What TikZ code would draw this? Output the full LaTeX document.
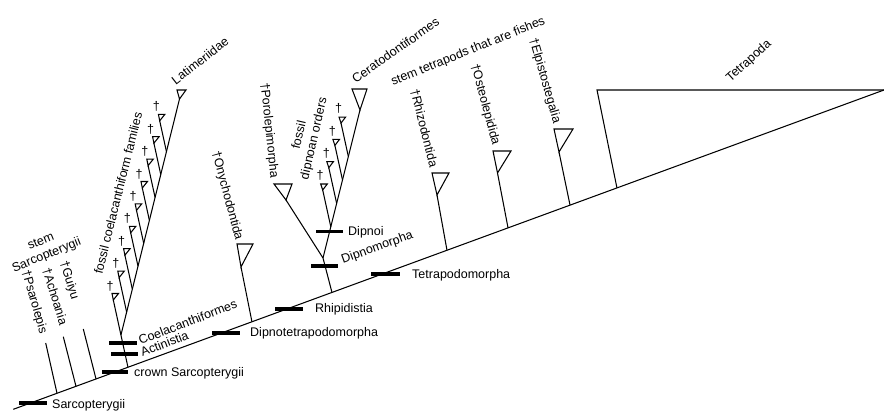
\documentclass[tikz,border=0pt]{standalone}
\usepackage{fontspec}
\setmainfont{Liberation Sans}
\usetikzlibrary{calc}
\newcommand\cladetri[4]{\draw[br] (#1) -- ++(#2,#3) -- ++(#4,0) -- cycle;}
\begin{document}
\begin{tikzpicture}[x=1pt,y=-1pt,
  br/.style={line width=1.05pt},
  bar/.style={line width=3.2pt},
  lbl/.style={font=\fontsize{12.5}{15}\selectfont, inner sep=1pt},
  dag/.style={font=\fontsize{12.5}{15}\selectfont, inner sep=0pt},
  line join=miter]

\path[use as bounding box] (0,0) rectangle (884,414);

% backbone
\coordinate (B0) at (13.3,409.3);
\coordinate (B1) at (884,90);
\draw[br] (B0) -- (B1);

% Tetrapoda
\coordinate (tetA) at ($(B0)!0.6933!(B1)$);
\coordinate (tetTL) at (597,90);
\draw[br] (tetA) -- (tetTL) -- (B1);

% stem sarcopterygians
\coordinate (psA) at ($(B0)!0.0502!(B1)$); \coordinate (psT) at (45.7,343);
\coordinate (acA) at ($(B0)!0.0720!(B1)$); \coordinate (acT) at (63.3,336.7);
\coordinate (guA) at ($(B0)!0.0950!(B1)$); \coordinate (guT) at (83.3,329);
\draw[br] (psA) -- (psT);
\draw[br] (acA) -- (acT);
\draw[br] (guA) -- (guT);

% coelacanths
\coordinate (coA) at ($(B0)!0.1317!(B1)$);
\coordinate (ca1) at (113.3,300);
\coordinate (coN) at ($(coA)!0.479!(ca1)$);
\coordinate (lat) at (179.5,99);
\draw[br] (coA) -- (ca1);
\draw[br] (coN) -- (lat);
\foreach \i in {2,...,9} {
  \coordinate (ca\i) at ({113.3+5.8*(\i-1)},{300-22.4*(\i-1)});
  \coordinate (cd\i) at ($(ca\i)+(21.88,100)$);
  \coordinate (cj\i) at (intersection of coN--lat and ca\i--cd\i);
  \draw[br] (ca\i) -- (cj\i);
}
\foreach \i in {1,...,9} {
  \draw[br] (ca\i) -- ++(-1.3,-6.5) coordinate (ct\i) -- ++(6.5,0) -- cycle;
  \node[dag] (cdag\i) at ($(ct\i)+(-2,-7.5)$) {†};
}
\cladetri{lat}{-2.5}{-9}{9}

% Onychodontida
\coordinate (onA) at ($(B0)!0.2741!(B1)$); \coordinate (onX) at (241,267);
\draw[br] (onA) -- (onX);
\cladetri{onX}{-4}{-23}{16}

% Dipnomorpha
\coordinate (dmA) at ($(B0)!0.3660!(B1)$);
\coordinate (dmN) at (323,258);
\coordinate (poX) at (286,200);
\coordinate (ceX) at (360,110);
\draw[br] (dmA) -- (dmN) -- (poX);
\draw[br] (dmN) -- (ceX);
\cladetri{poX}{-12}{-16}{18}
\cladetri{ceX}{-8}{-21}{15}
\foreach \i in {1,...,4} {
  \coordinate (dx\i) at ({322.7+6.1*(\i-1)},{190-22.3*(\i-1)});
  \coordinate (dd\i) at ($(dx\i)+(22,100)$);
  \coordinate (dj\i) at (intersection of dmN--ceX and dx\i--dd\i);
  \draw[br] (dx\i) -- (dj\i);
  \draw[br] (dx\i) -- ++(-2,-6) coordinate (dt\i) -- ++(6.6,0) -- cycle;
  \node[dag] (ddag\i) at ($(dt\i)+(-0.5,-8.3)$) {†};
}

% Tetrapodomorpha stem groups
\coordinate (rhA) at ($(B0)!0.4981!(B1)$); \coordinate (rhX) at (437,195);
\coordinate (osA) at ($(B0)!0.5682!(B1)$); \coordinate (osX) at (497.5,173);
\coordinate (elA) at ($(B0)!0.6394!(B1)$); \coordinate (elX) at (559,152);
\draw[br] (rhA) -- (rhX);
\draw[br] (osA) -- (osX);
\draw[br] (elA) -- (elX);
\cladetri{rhX}{-5}{-22}{17}
\cladetri{osX}{-4.5}{-22}{18}
\cladetri{elX}{-5}{-23}{19}

% bars
\draw[bar] (19,403) -- (47,403);
\draw[bar] (102,372) -- (128,372);
\draw[bar] (111,354) -- (138,354);
\draw[bar] (109,343) -- (137,343);
\draw[bar] (212,333) -- (240,333);
\draw[bar] (275,309) -- (303,309);
\draw[bar] (371,274) -- (400,274);
\draw[bar] (311,266) -- (338,266);
\draw[bar] (316,231.5) -- (343,231.5);

% node labels
\node[lbl, anchor=west] (lSarc) at (51,405) {Sarcopterygii};
\node[lbl, anchor=west] (lCrown) at (133,373) {crown Sarcopterygii};
\node[lbl, anchor=west, rotate=21] (lAct) at (140,353) {Actinistia};
\node[lbl, anchor=west, rotate=21] (lCoe) at (138,341) {Coelacanthiformes};
\node[lbl, anchor=west] (lDtp) at (249,333) {Dipnotetrapodomorpha};
\node[lbl, anchor=west] (lRhi) at (314,309) {Rhipidistia};
\node[lbl, anchor=west] (lTpm) at (411,275) {Tetrapodomorpha};
\node[lbl, anchor=west, rotate=20] (lDmo) at (341,261) {Dipnomorpha};
\node[lbl, anchor=west] (lDno) at (347,232) {Dipnoi};

% taxon labels
\node[lbl, rotate=-74] (tPs) at (34,302) {†Psarolepis};
\node[lbl, rotate=-73] (tAc) at (55,296.5) {†Achoania};
\node[lbl, rotate=-73] (tGu) at (69,280.5) {†Guiyu};
\node[lbl, rotate=22, align=center] (tStem) at (44,249) {stem\\Sarcopterygii};
\node[lbl, rotate=76] (tFcf) at (118,193) {fossil coelacanthiform families};
\node[lbl, anchor=base west, rotate=38] (tLat) at (175,86) {Latimeriidae};
\node[lbl, anchor=east, rotate=-75] (tOny) at (239,241) {†Onychodontida};
\node[lbl, anchor=east, rotate=-84] (tPor) at (274,179) {†Porolepimorpha};
\node[lbl, rotate=77, align=center] (tFdo) at (307,137) {fossil\\dipnoan orders};
\node[lbl, anchor=base west, rotate=35] (tCer) at (355,84) {Ceratodontiformes};
\node[lbl, anchor=base west, rotate=22] (tStt) at (392,86) {stem tetrapods that are fishes};
\node[lbl, anchor=east, rotate=-76] (tRhi) at (434,168) {†Rhizodontida};
\node[lbl, anchor=east, rotate=-75] (tOst) at (496,146) {†Osteolepidida};
\node[lbl, anchor=east, rotate=-74] (tElp) at (557,124) {†Elpistostegalia};
\node[lbl, rotate=42] (tTet) at (749,61) {Tetrapoda};
\end{tikzpicture}
\end{document}
